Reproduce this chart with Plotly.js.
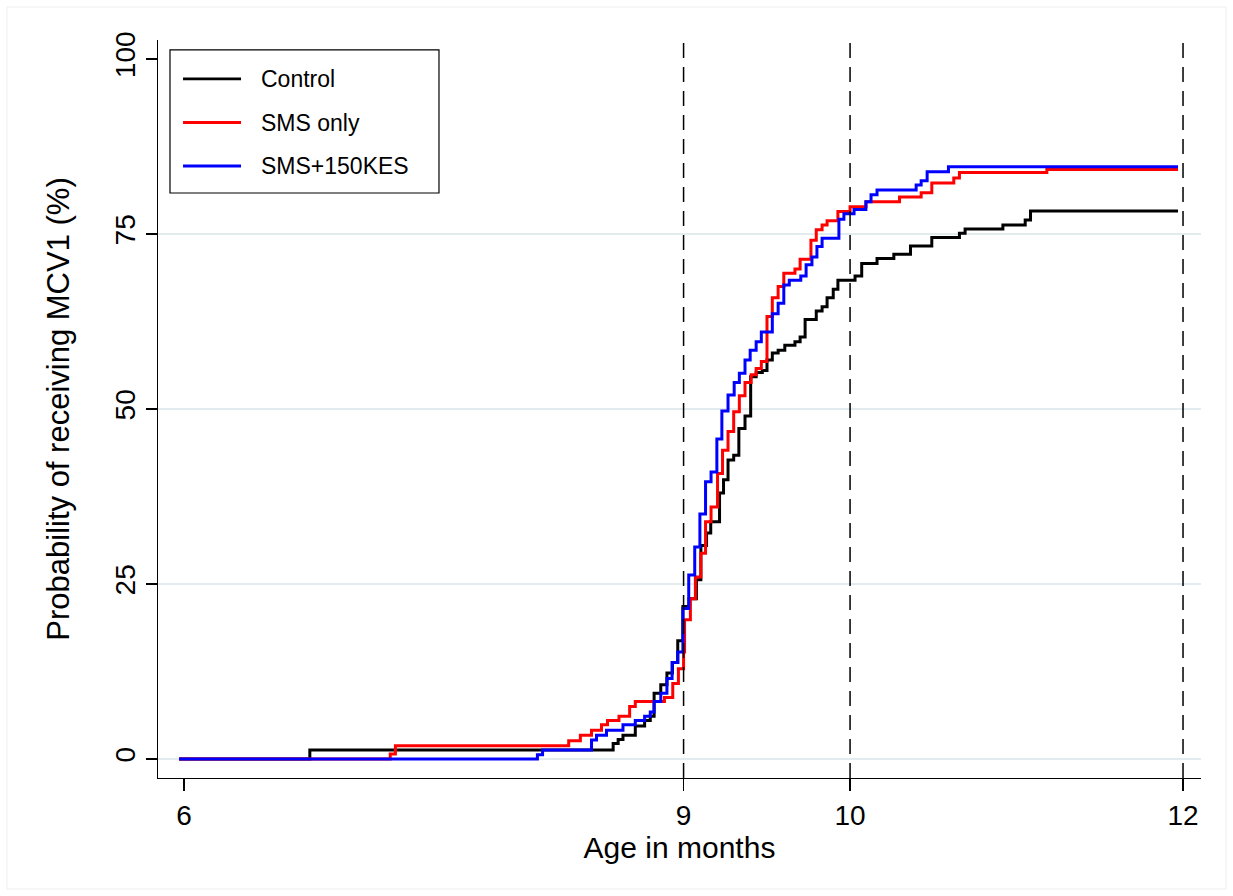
<!DOCTYPE html>
<html>
<head>
<meta charset="utf-8">
<script src="https://cdn.plot.ly/plotly-3.0.1.min.js"></script>
<style>html,body{margin:0;padding:0;background:#fff;}#chart{width:1233px;height:896px;}</style>
</head>
<body>
<div id="chart"></div>
<script>
// ---- data (age in months, cumulative % receiving MCV1) ----
const seriesNames = ["Control", "SMS only", "SMS+150KES"];
const seriesColors = ["#000000", "#ff0000", "#0000ff"];

const controlX = [5.97, 6.755, 8.577, 8.607, 8.636, 8.71, 8.766, 8.8, 8.823, 8.863, 8.9, 8.933, 8.965, 8.996, 9.033, 9.077, 9.104, 9.138, 9.163, 9.216, 9.24, 9.267, 9.301, 9.332, 9.369, 9.403, 9.436, 9.473, 9.501, 9.533, 9.568, 9.608, 9.669, 9.7, 9.73, 9.797, 9.832, 9.862, 9.899, 9.927, 10.03, 10.07, 10.162, 10.263, 10.363, 10.491, 10.657, 10.691, 10.918, 11.052, 11.084, 11.97];
const controlY = [0, 1.3, 2.2, 2.8, 3.4, 4.7, 5.5, 6.1, 9.4, 10.6, 12.3, 13.8, 16.9, 21.8, 22.9, 25.6, 30.5, 32.3, 33.9, 38.0, 39.9, 42.7, 43.4, 47.2, 49.0, 54.6, 55.2, 55.5, 57.0, 58.0, 58.4, 59.1, 59.6, 60.3, 62.8, 64.0, 64.6, 65.9, 67.1, 68.4, 69.0, 70.8, 71.5, 72.1, 73.3, 74.5, 75.1, 75.7, 76.3, 77.0, 78.3, 78.3];

const smsX = [5.97, 7.238, 7.269, 8.31, 8.38, 8.447, 8.507, 8.543, 8.612, 8.676, 8.71, 8.885, 8.935, 8.969, 9.0, 9.006, 9.041, 9.071, 9.104, 9.132, 9.165, 9.204, 9.234, 9.267, 9.301, 9.335, 9.369, 9.406, 9.436, 9.467, 9.501, 9.533, 9.568, 9.602, 9.669, 9.7, 9.765, 9.797, 9.832, 9.862, 9.927, 10.0, 10.096, 10.297, 10.427, 10.491, 10.623, 10.657, 11.182, 11.97];
const smsY = [0, 0.7, 1.9, 2.6, 3.4, 4.1, 4.9, 5.5, 6.1, 7.5, 8.2, 8.8, 10.8, 12.9, 15.3, 19.9, 22.9, 26.0, 29.4, 33.9, 36.0, 40.8, 44.1, 46.8, 49.6, 51.9, 53.8, 54.9, 55.8, 56.8, 63.2, 65.9, 67.5, 69.4, 70.0, 71.4, 74.1, 75.6, 76.3, 76.9, 78.2, 78.9, 79.6, 80.3, 80.9, 82.3, 83.0, 83.8, 84.2, 84.2];

const kesX = [5.97, 8.122, 8.153, 8.447, 8.477, 8.537, 8.636, 8.71, 8.766, 8.8, 8.823, 8.863, 8.9, 8.931, 8.965, 8.996, 9.031, 9.067, 9.098, 9.132, 9.165, 9.2, 9.23, 9.267, 9.304, 9.335, 9.369, 9.4, 9.436, 9.467, 9.533, 9.568, 9.602, 9.635, 9.704, 9.736, 9.771, 9.801, 9.832, 9.933, 9.963, 10.024, 10.095, 10.126, 10.162, 10.397, 10.427, 10.463, 10.591, 11.97];
const kesY = [0, 0.6, 1.3, 2.7, 3.4, 4.1, 4.9, 5.5, 6.1, 6.7, 8.2, 9.4, 11.5, 13.8, 15.3, 21.5, 26.3, 30.3, 35.0, 39.6, 41.0, 45.7, 49.7, 52.0, 53.8, 55.1, 57.0, 58.4, 59.6, 61.0, 63.6, 65.1, 67.7, 68.4, 69.0, 70.6, 71.7, 73.2, 74.4, 77.1, 77.9, 78.5, 79.6, 80.6, 81.3, 82.0, 82.6, 83.9, 84.6, 84.6];

const xTicks = [6, 9, 10, 12];
const xTickLabels = ["6", "9", "10", "12"];
const yTicks = [0, 25, 50, 75, 100];
const yTickLabels = ["0", "25", "50", "75", "100"];
const gridLevels = [0, 25, 50, 75];
const refMonths = [9, 10, 12];

const xTitle = "Age in months";
const yTitle = "Probability of receiving MCV1 (%)";

// ---- build ----
const FONT = "Liberation Sans, Arial, Helvetica, sans-serif";
const seriesX = [controlX, smsX, kesX];
const seriesY = [controlY, smsY, kesY];

const traces = seriesNames.map((n, i) => ({
  type: "scatter", mode: "lines", name: n,
  x: seriesX[i], y: seriesY[i],
  line: {shape: "hv", color: seriesColors[i], width: 3},
  showlegend: false, hoverinfo: "x+y+name"
}));

const shapes = [];
const annotations = [];

// faint outer frame of the graph region
shapes.push({type: "rect", xref: "paper", yref: "paper", x0: -0.1448, x1: 1.024, y0: -0.1504, y1: 1.0447,
  line: {color: "#eeeeee", width: 1}, layer: "below"});

gridLevels.forEach(v => shapes.push({type: "line", xref: "paper", yref: "y", x0: 0, x1: 1, y0: v, y1: v,
  line: {color: "#e2ebed", width: 2.2}, layer: "below"}));

refMonths.forEach(m => shapes.push({type: "line", xref: "x", yref: "paper", x0: m, x1: m, y0: 0, y1: 1,
  line: {color: "#000000", width: 1.5, dash: "15px,9px"}, layer: "above"}));

// legend (box, line samples, labels)
shapes.push({type: "rect", xref: "paper", yref: "paper", x0: 0.0115, x1: 0.2694, y0: 0.7927, y1: 0.9865,
  line: {color: "#000000", width: 1.2}, fillcolor: "#ffffff", layer: "above"});
const legRowY = [0.9472, 0.8882, 0.8293];
seriesNames.forEach((n, i) => {
  shapes.push({type: "line", xref: "paper", yref: "paper", x0: 0.024, x1: 0.0796, y0: legRowY[i], y1: legRowY[i],
    line: {color: seriesColors[i], width: 2.8}, layer: "above"});
  annotations.push({xref: "paper", yref: "paper", x: 0.0965, y: legRowY[i], xanchor: "left", yanchor: "middle",
    text: n, showarrow: false, font: {family: FONT, size: 23, color: "#000"}});
});

const layout = {
  width: 1233, height: 896,
  paper_bgcolor: "#ffffff", plot_bgcolor: "#ffffff",
  margin: {l: 158, r: 32, t: 40, b: 118, pad: 0},
  font: {family: FONT, color: "#000"},
  showlegend: false,
  xaxis: {
    range: [5.843, 12.108], tickmode: "array", tickvals: xTicks, ticktext: xTickLabels,
    showgrid: false, zeroline: false, showline: true, linecolor: "#000", linewidth: 1.3,
    ticks: "outside", ticklen: 12, tickwidth: 1.3, tickcolor: "#000",
    tickfont: {family: FONT, size: 28, color: "#000"},
    title: {text: xTitle, font: {family: FONT, size: 30, color: "#000"}, standoff: 2},
    automargin: false
  },
  yaxis: {
    range: [-2.714, 102.714], tickmode: "array", tickvals: yTicks, ticktext: yTickLabels,
    showgrid: false, zeroline: false, showline: true, linecolor: "#000", linewidth: 1.3,
    ticks: "outside", ticklen: 11, tickwidth: 1.3, tickcolor: "#000", tickangle: -90,
    tickfont: {family: FONT, size: 28, color: "#000"},
    title: {text: yTitle, font: {family: FONT, size: 31, color: "#000"}, standoff: 30},
    automargin: false
  },
  shapes: shapes,
  annotations: annotations
};

Plotly.newPlot("chart", traces, layout, {displayModeBar: false, staticPlot: true});
</script>
</body>
</html>
